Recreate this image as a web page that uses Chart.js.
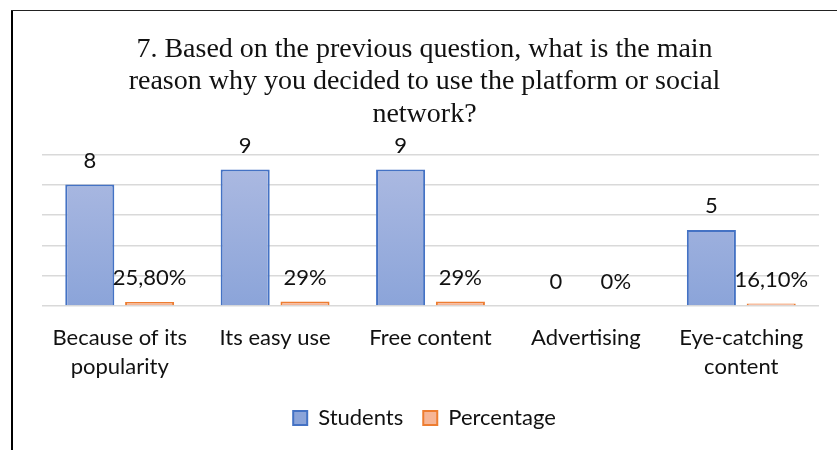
<!DOCTYPE html>
<html>
<head>
<meta charset="utf-8">
<script src="https://cdn.jsdelivr.net/npm/chart.js@4/dist/chart.umd.min.js"></script>
<style>
  html, body { margin: 0; padding: 0; background: #fff; }
  #wrap { position: relative; width: 837px; height: 450px; overflow: hidden; }
  #chart { position: absolute; left: 0; top: 0; }
  .frame-left { position: absolute; left: 11px; top: 10px; width: 2px; height: 440px; background: #000; }
  .frame-top { position: absolute; left: 11px; top: 10px; width: 826px; height: 1px; background: #222; }
</style>
</head>
<body>
<div id="wrap">
  <canvas id="chart" width="837" height="450"></canvas>
  <div class="frame-left"></div>
  <div class="frame-top"></div>
</div>
<script>
// Survey answers, question 7
const reasons = [
  ['Because of its', 'popularity'],
  'Its easy use',
  'Free content',
  'Advertising',
  ['Eye-catching', 'content']
];
const students = [8, 9, 9, 0, 5];
const percentage = [0.258, 0.29, 0.29, 0, 0.161];
const percentageLabels = ['25,80%', '29%', '29%', '0%', '16,10%'];

const titleLines = [
  '7. Based on the previous question, what is the main',
  'reason why you decided to use the platform or social',
  'network?'
];

const LABEL_FONT = 'Lato, "Open Sans", sans-serif';

//Vertical blue gradient for the Students bars
function studentsFill(context) {
  const area = context.chart.chartArea;
  if (!area) return '#9fb1df';
  const g = context.chart.ctx.createLinearGradient(0, area.top, 0, area.bottom);
  g.addColorStop(0, '#aebbe2');
  g.addColorStop(1, '#8ba4d9');
  return g;
}

//Draw the value above every bar
const valueLabels = {
  id: 'valueLabels',
  afterDatasetsDraw(chart) {
    const ctx = chart.ctx;
    ctx.save();
    ctx.font = '22px ' + LABEL_FONT;
    ctx.fillStyle = '#111';
    ctx.textAlign = 'center';
    ctx.textBaseline = 'middle';
    chart.data.datasets.forEach((ds, i) => {
      const meta = chart.getDatasetMeta(i);
      meta.data.forEach((bar, j) => {
        const text = ds.valueText ? ds.valueText[j] : String(ds.data[j]);
        ctx.fillText(text, bar.x, bar.y - 24);
      });
    });
    ctx.restore();
  }
};

const chart = new Chart(document.getElementById('chart'), {
  type: 'bar',
  data: {
    labels: reasons,
    datasets: [
      {
        label: 'Students',
        data: students,
        backgroundColor: studentsFill,
        borderColor: '#4472c4',
        borderWidth: 2,
        borderSkipped: 'bottom',
        barPercentage: 0.82,
        categoryPercentage: 0.77
      },
      {
        label: 'Percentage',
        data: percentage,
        valueText: percentageLabels,
        backgroundColor: '#f6b596',
        borderColor: '#ed7d31',
        borderWidth: 2,
        borderSkipped: 'bottom',
        barPercentage: 0.82,
        categoryPercentage: 0.77
      }
    ]
  },
  options: {
    responsive: false,
    animation: false,
    layout: { padding: { left: 30, right: 18, top: 33, bottom: 11 } },
    scales: {
      x: {
        grid: { display: false },
        border: { display: false },
        ticks: {
          color: '#111',
          font: { family: LABEL_FONT, size: 22, lineHeight: 1.32 },
          maxRotation: 0,
          autoSkip: false,
          padding: 9
        },
        //labels hang a little closer to the legend
        afterFit(axis) { axis.height -= 3; }
      },
      y: {
        min: 0,
        max: 10,
        ticks: { display: false, stepSize: 2 },
        border: { display: false },
        grid: { color: '#d9d9d9', lineWidth: 1.5, drawTicks: false },
        //empty strip left of the plot, no tick text
        afterFit(axis) { axis.width = 12; }
      }
    },
    plugins: {
      title: {
        display: true,
        text: titleLines,
        color: '#111',
        font: { family: '"Liberation Serif", "Times New Roman", serif', size: 28, weight: 'normal', lineHeight: 1.17 },
        padding: { top: 0, bottom: 23 }
      },
      legend: {
        position: 'bottom',
        labels: {
          color: '#111',
          font: { family: LABEL_FONT, size: 22 },
          boxWidth: 14,
          boxHeight: 14,
          padding: 20
        }
      },
      tooltip: { enabled: false }
    }
  },
  plugins: [valueLabels]
});
</script>
</body>
</html>
